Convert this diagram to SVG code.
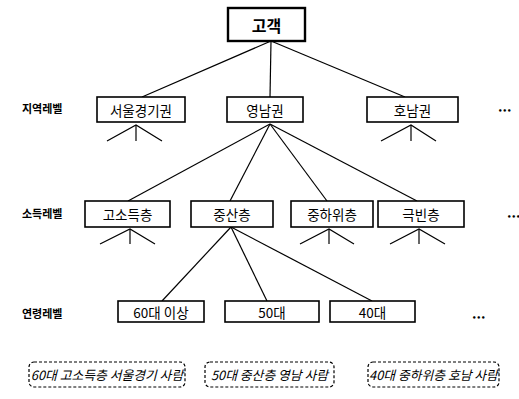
<svg xmlns="http://www.w3.org/2000/svg" width="519" height="399" viewBox="0 0 519 399">
<style>
.box{fill:#fff;stroke:#000;stroke-width:1.6}
.root{fill:#fff;stroke:#000;stroke-width:2.4}
.dash{fill:#fff;stroke:#000;stroke-width:1.2;stroke-dasharray:3 2}
.t{font-family:"Noto Sans CJK KR","Noto Sans",sans-serif;font-size:13.5px;text-anchor:middle;dominant-baseline:central;fill:#000}
.rt{font-size:16px;font-weight:bold}
.lab{font-family:"Noto Sans CJK KR","Noto Sans",sans-serif;font-size:11px;font-weight:bold;dominant-baseline:central;fill:#000}
.it{font-family:"Noto Sans CJK KR","Noto Sans",sans-serif;font-size:12.8px;font-style:italic;text-anchor:middle;dominant-baseline:central;fill:#000}
.dots{font-family:"DejaVu Sans",sans-serif;font-size:7px;font-weight:bold;dominant-baseline:central;fill:#000}
.c{stroke:#000;stroke-width:1.2;fill:none}
</style>
<rect width="519" height="399" fill="#fff"/>
<g id="connectors" class="c">
<line x1="271" y1="41" x2="142" y2="97"/>
<line x1="271" y1="41" x2="270" y2="97"/>
<line x1="271" y1="41" x2="405" y2="97"/>
<polyline points="107,141 136,125 162,141"/><line x1="136" y1="125" x2="136" y2="141"/>
<polyline points="381,141 411,125 436,141"/><line x1="411" y1="125" x2="411" y2="141"/>
<line x1="270" y1="124" x2="128" y2="201"/>
<line x1="270" y1="124" x2="230" y2="201"/>
<line x1="270" y1="124" x2="327" y2="201"/>
<line x1="270" y1="124" x2="417" y2="201"/>
<polyline points="100,244 130,229 155,244"/><line x1="130" y1="229" x2="130" y2="244"/>
<polyline points="300,244 329,229 354,244"/><line x1="329" y1="229" x2="329" y2="244"/>
<polyline points="390,244 419,229 445,244"/><line x1="419" y1="229" x2="419" y2="244"/>
<line x1="231" y1="227" x2="162" y2="301"/>
<line x1="231" y1="227" x2="267" y2="301"/>
<line x1="231" y1="227" x2="372" y2="301"/>
</g>
<g id="root"><rect class="root" x="228" y="8" width="77" height="33"/><text class="t rt" x="266.5" y="24.5">고객</text></g>
<g id="label-region"><text class="lab" x="22" y="108">지역레벨</text></g>
<g id="label-income"><text class="lab" x="22" y="213">소득레벨</text></g>
<g id="label-age"><text class="lab" x="22" y="313">연령레벨</text></g>
<g id="seoul"><rect class="box" x="97" y="97" width="88" height="25"/><text class="t" x="141" y="109.5">서울경기권</text></g>
<g id="yeongnam"><rect class="box" x="227" y="97" width="76" height="25"/><text class="t" x="265" y="109.5">영남권</text></g>
<g id="honam"><rect class="box" x="367" y="97" width="91" height="25"/><text class="t" x="412.5" y="109.5">호남권</text></g>
<g id="high"><rect class="box" x="85" y="201" width="85" height="26"/><text class="t" x="127.5" y="214">고소득층</text></g>
<g id="middle"><rect class="box" x="191" y="201" width="82" height="26"/><text class="t" x="232" y="214">중산층</text></g>
<g id="lowmid"><rect class="box" x="291" y="201" width="82" height="26"/><text class="t" x="332" y="214">중하위층</text></g>
<g id="poor"><rect class="box" x="378" y="201" width="86" height="26"/><text class="t" x="421" y="214">극빈층</text></g>
<g id="age60"><rect class="box" x="118" y="301" width="86" height="21"/><text class="t" x="161" y="311.5">60대 이상</text></g>
<g id="age50"><rect class="box" x="225" y="301" width="94" height="21"/><text class="t" x="272" y="311.5">50대</text></g>
<g id="age40"><rect class="box" x="330" y="301" width="85" height="21"/><text class="t" x="372.5" y="311.5">40대</text></g>
<g id="dots"><text class="dots" x="498" y="111">•••</text><text class="dots" x="507" y="217">•••</text><text class="dots" x="472" y="318">•••</text></g>
<g id="ex1"><rect class="dash" x="29" y="362" width="156" height="25" rx="5"/><text class="it" x="107" y="374.5">60대 고소득층 서울경기 사람</text></g>
<g id="ex2"><rect class="dash" x="205" y="362" width="129" height="25" rx="5"/><text class="it" x="269.5" y="374.5">50대 중산층 영남 사람</text></g>
<g id="ex3"><rect class="dash" x="368" y="362" width="131" height="25" rx="5"/><text class="it" x="433.5" y="374.5">40대 중하위층 호남 사람</text></g>
</svg>
